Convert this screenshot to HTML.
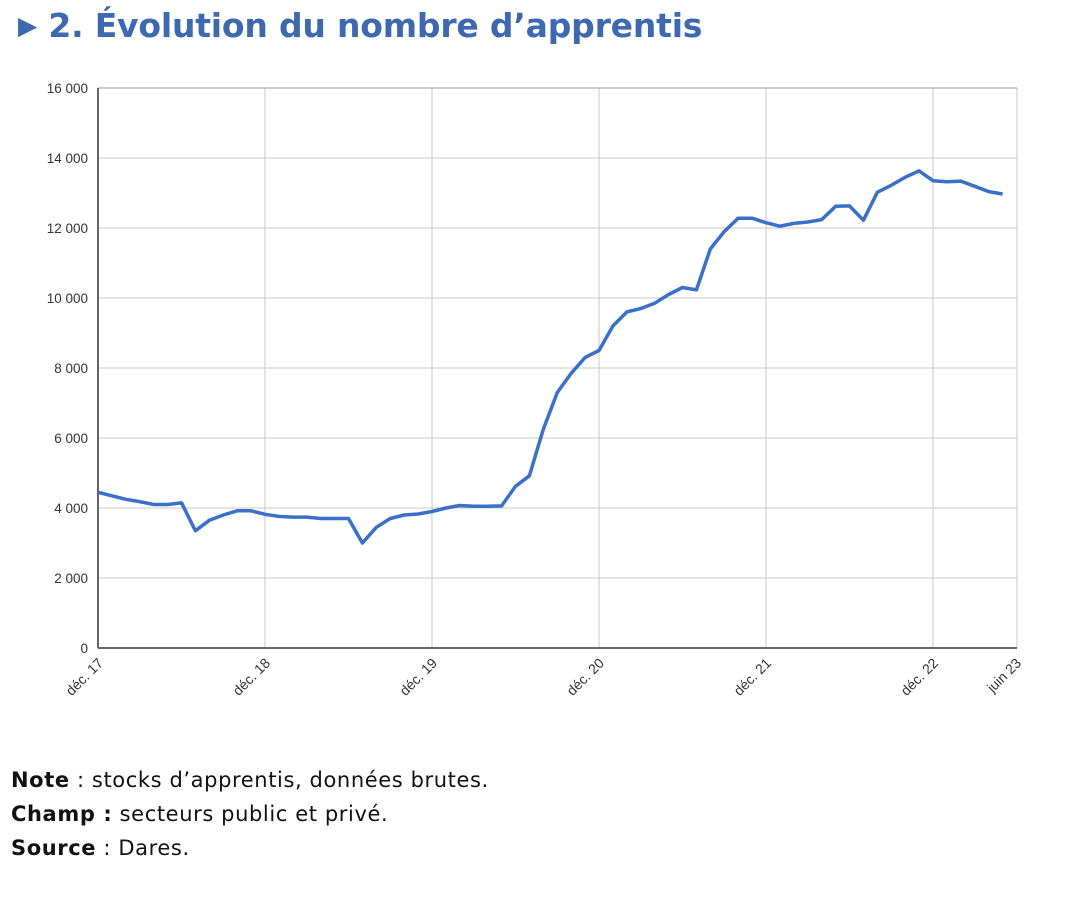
<!DOCTYPE html>
<html><head><meta charset="utf-8"><style>
body{margin:0;background:#fff;width:1074px;height:918px;overflow:hidden;font-family:"DejaVu Sans","Liberation Sans",sans-serif}
.t{position:absolute;left:18px;top:6px;font-size:33px;font-weight:bold;color:#3e68b0;letter-spacing:-0.2px}
.f{position:absolute;left:11px;font-size:21px;color:#111;letter-spacing:0.6px}
</style></head><body>
<div class="t"><span style="font-size:25px;vertical-align:3px">▶</span> 2. Évolution du nombre d’apprentis</div>
<svg id="s" width="1074" height="918" style="position:absolute;left:0;top:0;font-family:'Liberation Sans',sans-serif"></svg>
<div class="f" style="top:768px"><b>Note</b> : stocks d’apprentis, données brutes.</div>
<div class="f" style="top:802px"><b>Champ :</b> secteurs public et privé.</div>
<div class="f" style="top:836px"><b>Source</b> : Dares.</div>
<script>
var v=[4450,4350,4250,4180,4100,4100,4150,3350,3650,3800,3920,3920,3820,3760,3740,3740,3700,3700,3700,3000,3450,3700,3800,3830,3900,4000,4070,4050,4050,4060,4620,4920,6250,7300,7850,8300,8500,9200,9600,9700,9850,10100,10300,10230,11400,11900,12280,12280,12150,12050,12130,12170,12240,12620,12630,12220,13020,13220,13450,13630,13350,13320,13340,13190,13040,12970];
var X0=98,X1=1017,Y0=648,Y1=88,mw=167/12;
var h='';
for(var i=0;i<=8;i++){var y=Y0-i*70;h+='<line x1="'+X0+'" x2="'+X1+'" y1="'+y+'" y2="'+y+'" stroke="#c8c8c8"/>';
var l=i==0?'0':(i*2)+' 000';h+='<text x="88" y="'+(y+5)+'" text-anchor="end" font-size="13.5" fill="#333">'+l+'</text>';}
var ls=['déc. 17','déc. 18','déc. 19','déc. 20','déc. 21','déc. 22'];
for(var j=0;j<6;j++){var x=X0+j*167;h+='<line x1="'+x+'" x2="'+x+'" y1="'+Y1+'" y2="'+Y0+'" stroke="#c8c8c8"/>';
h+='<text transform="translate('+(x+6)+',664) rotate(-45)" text-anchor="end" font-size="14" fill="#333">'+ls[j]+'</text>';}
h+='<text transform="translate(1022,664) rotate(-45)" text-anchor="end" font-size="14" fill="#333">juin 23</text>';
h+='<line x1="'+X1+'" x2="'+X1+'" y1="'+Y1+'" y2="'+Y0+'" stroke="#c8c8c8"/>';
h+='<line x1="'+X0+'" x2="'+X1+'" y1="'+Y1+'" y2="'+Y1+'" stroke="#999"/>';
h+='<line x1="'+X0+'" x2="'+X0+'" y1="'+Y1+'" y2="'+Y0+'" stroke="#666" stroke-width="2"/>';
h+='<line x1="'+X0+'" x2="'+X1+'" y1="'+Y0+'" y2="'+Y0+'" stroke="#666" stroke-width="2"/>';
var p=v.map(function(a,i){return (X0+i*mw).toFixed(1)+','+(Y0-a*0.035).toFixed(1)}).join(' ');
h+='<polyline points="'+p+'" fill="none" stroke="#3a70c8" stroke-width="3.5" stroke-linejoin="round"/>';
document.getElementById('s').innerHTML=h;
</script>
</body></html>
